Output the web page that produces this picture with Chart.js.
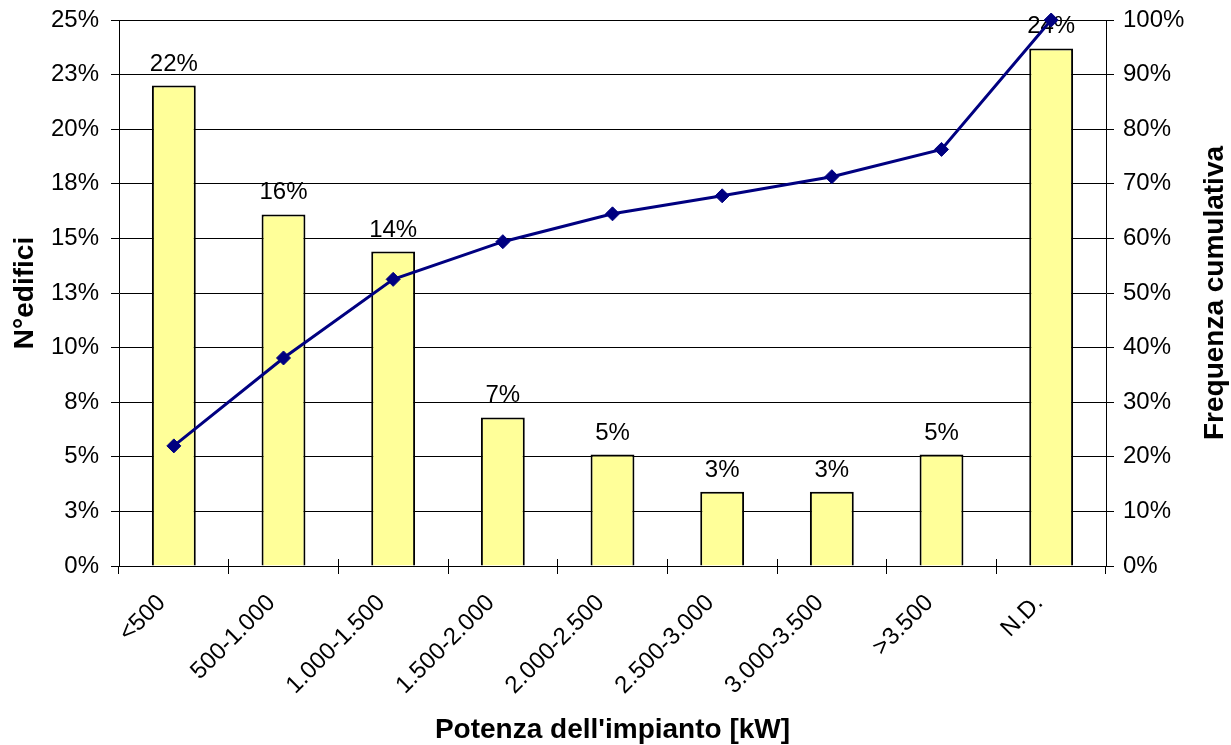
<!DOCTYPE html>
<html lang="it">
<head>
<meta charset="utf-8">
<title>Potenza dell'impianto</title>
<script src="https://cdn.jsdelivr.net/npm/chart.js@4.4.0/dist/chart.umd.min.js"></script>
<style>
    html, body { margin: 0; padding: 0; background: #fff; }
    canvas { display: block; }
</style>
</head>
<body>
<canvas id="grafico" width="1231" height="745"></canvas>
<script>
// Classi di potenza dell'impianto (asse X)
const categorie = ['<500', '500-1.000', '1.000-1.500', '1.500-2.000', '2.000-2.500', '2.500-3.000', '3.000-3.500', '>3.500', 'N.D.'];

// Quota di edifici per classe (%), asse sinistro
const quotaEdifici = [22.0, 16.1, 14.4, 6.8, 5.1, 3.4, 3.4, 5.1, 23.7];

// Frequenza cumulativa (%), asse destro
const frequenzaCumulativa = [22.0, 38.1, 52.5, 59.4, 64.5, 67.8, 71.3, 76.3, 100];

// Valori dei tick sugli assi
const tickEdifici = [0, 2.5, 5, 7.5, 10, 12.5, 15, 17.5, 20, 22.5, 25];
const tickCumulativa = [0, 10, 20, 30, 40, 50, 60, 70, 80, 90, 100];

// Titoli degli assi
const titoloX = "Potenza dell'impianto [kW]";
const titoloY = 'N°edifici';
const titoloY1 = 'Frequenza cumulativa';

const FONT = '"Liberation Sans", Arial, sans-serif';
const fontTick = { family: FONT, size: 24 };

// Etichette sopra le barre, titoli degli assi e tacche sull'asse X
const etichettePlugin = {
    id: 'etichette',
    afterDatasetDraw(chart, args) {
        if (args.index !== 1) return; // solo dopo le barre, prima della linea
        const ctx = chart.ctx;
        ctx.save();
        ctx.font = '24px ' + FONT;
        ctx.fillStyle = '#000';
        ctx.textAlign = 'center';
        ctx.textBaseline = 'alphabetic';
        args.meta.data.forEach((bar, i) => {
            ctx.fillText(Math.round(quotaEdifici[i]) + '%', bar.x, bar.y - 15);
        });
        ctx.restore();
    },
    afterDraw(chart) {
        const ctx = chart.ctx;
        const ca = chart.chartArea;
        const xs = chart.scales.x;
        const cy = (ca.top + ca.bottom) / 2;

        // tacche sopra l'asse X (Excel le disegna incrociate)
        ctx.save();
        ctx.strokeStyle = '#000';
        ctx.lineWidth = 1;
        ctx.beginPath();
        for (let i = 1; i < categorie.length; i++) {
            const mid = (xs.getPixelForTick(i - 1) + xs.getPixelForTick(i)) / 2;
            const px = Math.round(mid - 0.5) + 0.5;
            ctx.moveTo(px, xs.top - 7);
            ctx.lineTo(px, xs.top);
        }
        ctx.stroke();

        ctx.font = 'bold 28px ' + FONT;
        ctx.fillStyle = '#000';
        ctx.textAlign = 'center';
        ctx.textBaseline = 'alphabetic';
        ctx.fillText(titoloX, (ca.left + ca.right) / 2, 738);

        ctx.save();
        ctx.translate(33, cy);
        ctx.rotate(-Math.PI / 2);
        ctx.fillText(titoloY, 0, 0);
        ctx.restore();

        ctx.save();
        ctx.translate(1223, cy);
        ctx.rotate(-Math.PI / 2);
        ctx.fillText(titoloY1, 0, 0);
        ctx.restore();

        ctx.restore();
    }
};

// Larghezza fissa degli assi verticali, senza margini extra per le etichette
function fissaLarghezza(w) {
    return s => {
        s.width = w;
        s.paddingTop = 0;
        s.paddingBottom = 0;
    };
}

const ctx = document.getElementById('grafico').getContext('2d');
const grafico = new Chart(ctx, {
    type: 'bar',
    data: {
        labels: categorie,
        datasets: [{
            type: 'line',
            label: titoloY1,
            data: frequenzaCumulativa,
            yAxisID: 'y1',
            order: 0,
            borderColor: '#000080',
            backgroundColor: '#000080',
            borderWidth: 3,
            tension: 0,
            pointStyle: 'rectRot',
            pointRadius: 7,
            pointBorderWidth: 1,
            pointBackgroundColor: '#000080',
            pointBorderColor: '#000080',
            clip: false
        }, {
            label: titoloY,
            data: quotaEdifici,
            yAxisID: 'y',
            order: 1,
            backgroundColor: '#FFFF99',
            borderColor: '#000',
            borderWidth: 2,
            categoryPercentage: 1,
            barPercentage: 0.4
        }]
    },
    options: {
        responsive: false,
        animation: false,
        devicePixelRatio: 1,
        layout: { padding: { top: 20, left: 0, right: 0, bottom: 0 } },
        plugins: {
            legend: { display: false },
            tooltip: { enabled: false }
        },
        scales: {
            x: {
                offset: true,
                grid: { drawOnChartArea: false, offset: true, color: '#000', tickLength: 8 },
                border: { color: '#000', width: 1 },
                ticks: {
                    color: '#000',
                    font: fontTick,
                    minRotation: 45,
                    maxRotation: 45,
                    autoSkip: false,
                    padding: 15,
                    labelOffset: -12
                },
                afterFit: s => { s.height = 179; s.paddingLeft = 0; s.paddingRight = 0; }
            },
            y: {
                position: 'left',
                min: 0,
                max: 25,
                afterBuildTicks: s => { s.ticks = tickEdifici.map(v => ({ value: v })); },
                grid: { color: '#000', tickLength: 8 },
                border: { color: '#000', width: 1 },
                ticks: {
                    color: '#000',
                    font: fontTick,
                    padding: 12,
                    callback: v => Math.round(v) + '%'
                },
                afterFit: fissaLarghezza(119)
            },
            y1: {
                position: 'right',
                min: 0,
                max: 100,
                afterBuildTicks: s => { s.ticks = tickCumulativa.map(v => ({ value: v })); },
                grid: { drawOnChartArea: false, color: '#000', tickLength: 8 },
                border: { color: '#000', width: 1 },
                ticks: {
                    color: '#000',
                    font: fontTick,
                    padding: 9,
                    callback: v => v + '%'
                },
                afterFit: fissaLarghezza(125)
            }
        }
    },
    plugins: [etichettePlugin]
});
</script>
</body>
</html>
